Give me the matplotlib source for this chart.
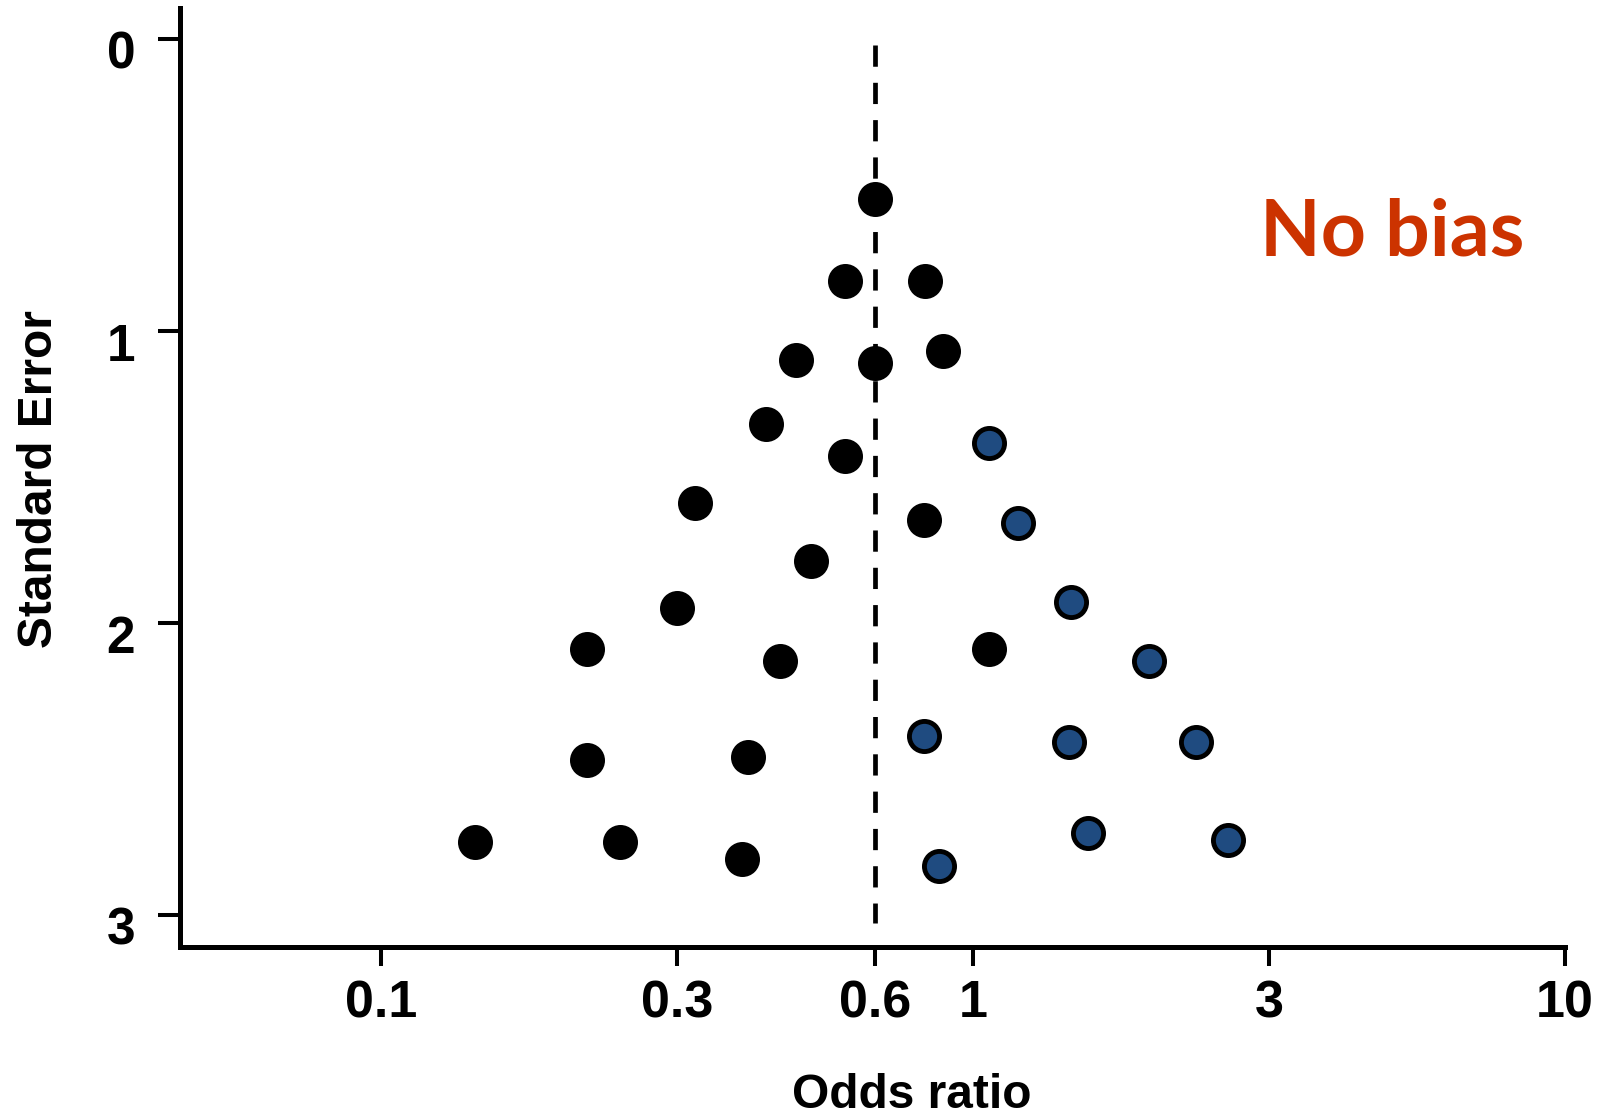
import numpy as np
import matplotlib
matplotlib.use("Agg")
import matplotlib.pyplot as plt
from matplotlib.transforms import ScaledTranslation

# --- data ------------------------------------------------------------------
# black dots (studies inside the funnel)
black_or = [0.60, 0.54, 0.78, 0.455, 0.60, 0.855, 0.41, 0.54, 0.32, 0.775,
            0.48, 0.30, 0.215, 0.43, 1.06, 0.215, 0.385, 0.142, 0.243, 0.377]
black_se = [0.55, 0.83, 0.83, 1.10, 1.11, 1.07, 1.32, 1.43, 1.59, 1.65,
            1.79, 1.95, 2.09, 2.13, 2.09, 2.47, 2.46, 2.75, 2.75, 2.81]
# blue dots
blue_or = [1.06, 1.18, 1.44, 1.92, 0.775, 1.43, 2.29, 1.53, 2.58, 0.84]
blue_se = [1.385, 1.66, 1.93, 2.13, 2.39, 2.41, 2.41, 2.72, 2.745, 2.835]

pooled_or = 0.6
xticks = [0.1, 0.3, 0.6, 1, 3, 10]
xtick_labels = ["0.1", "0.3", "0.6", "1", "3", "10"]
yticks = [0, 1, 2, 3]
ytick_labels = ["0", "1", "2", "3"]

# the odds-ratio axis in the source is only roughly logarithmic: the
# labelled ticks sit at these positions (in decades), so map through them
_LOGS = np.log10([0.01, 0.1, 0.3, 0.6, 1.0, 3.0, 10.0, 100.0])
_POS = np.array([-2.0, -1.0, -0.5, -0.166, 0.0, 0.5, 1.0, 2.0])


def _fwd(x):
    x = np.clip(np.asarray(x, dtype=float), 1e-6, None)
    return np.interp(np.log10(x), _LOGS, _POS)


def _inv(p):
    return 10.0 ** np.interp(np.asarray(p, dtype=float), _POS, _LOGS)


BLUE = "#1f4b80"
RED = "#cc3300"

fig = plt.figure(figsize=(16.02, 11.13), dpi=100)
ax = fig.add_axes([0.11236, 0.1487, 0.86454, 0.8441])

ax.set_xscale("function", functions=(_fwd, _inv))
ax.set_xlim(0.04576, 10)
ax.set_ylim(3.113, -0.1055)

ax.vlines(pooled_or, 0.02, 3.03, colors="black", lw=3.4,
          linestyles=[(0, (4.5, 3.4))], zorder=2)

ax.scatter(black_or, black_se, s=21.7 ** 2, c="black", edgecolors="black",
           linewidths=3.5, zorder=3)
ax.scatter(blue_or, blue_se, s=21.7 ** 2, c=BLUE, edgecolors="black",
           linewidths=3.5, zorder=3)

for side in ("top", "right"):
    ax.spines[side].set_visible(False)
for side in ("left", "bottom"):
    ax.spines[side].set_linewidth(3.6)

ax.set_xticks(xticks, labels=xtick_labels)
ax.set_yticks(yticks, labels=ytick_labels)
ax.minorticks_off()
ax.tick_params(axis="x", length=14, width=2.9, pad=9)
ax.tick_params(axis="y", length=15.8, width=2.9, pad=16.5)
for lab in ax.get_xticklabels():
    lab.set_fontfamily("Liberation Sans")
    lab.set_fontweight("bold")
    lab.set_fontsize(37.5)
shift = ScaledTranslation(0, -11 / 100, fig.dpi_scale_trans)
for lab in ax.get_yticklabels():
    lab.set_fontfamily("Liberation Sans")
    lab.set_fontweight("bold")
    lab.set_fontsize(37)
    lab.set_transform(lab.get_transform() + shift)

ax.set_xlabel("Odds ratio", family="Liberation Sans", weight="bold",
              fontsize=34.5, va="baseline")
ax.xaxis.set_label_coords(0.5285, -0.1705)
ax.set_ylabel("Standard Error", family="Liberation Sans", weight="bold",
              fontsize=34.5, va="baseline")
ax.yaxis.set_label_coords(-0.0924, 0.4987)

ax.text(0.780, 0.737, "No bias", transform=ax.transAxes, family="Lato",
        weight="bold", fontsize=56.7, color=RED, ha="left", va="baseline")

fig.savefig("out.png", dpi=100)
